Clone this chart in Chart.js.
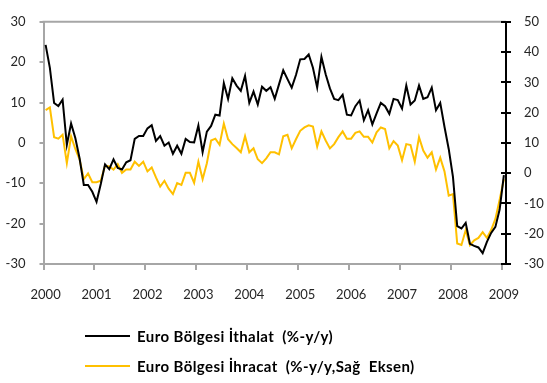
<!DOCTYPE html>
<html>
<head>
<meta charset="utf-8">
<script src="https://cdn.jsdelivr.net/npm/chart.js@4/dist/chart.umd.min.js"></script>
<style>
  html, body { margin: 0; padding: 0; background: #fff; }
  #wrap { position: relative; width: 547px; height: 383px; overflow: hidden; }
  #c { position: absolute; left: 0; top: 0; }
  .lg { position: absolute; left: 85px; height: 18px; line-height: 18px;
        font: bold 15px Lato, sans-serif; letter-spacing: 0.4px; color: #000; white-space: pre; }
  .lg .ln { position: absolute; left: 0; top: 8px; width: 45px; height: 2px; }
  .lg .tx { position: absolute; left: 52px; top: 0; }
</style>
</head>
<body>
<div id="wrap">
  <canvas id="c" width="547" height="383"></canvas>
</div>
<script>
// Monthly year-on-year changes, January 2000 to January 2009
const years = [2000, 2001, 2002, 2003, 2004, 2005, 2006, 2007, 2008, 2009];

// Euro area imports, % y/y (left axis)
const importsYoY = [
  24.3, 18.6, 9.9, 9.1, 10.7, -0.5, 4.8, 1.2, -3.8, -10.4, -10.4, -12.1,
  -14.6, -10.2, -5.3, -6.5, -4.1, -6.2, -6.6, -4.8, -4.3, 1.0, 1.7, 1.7,
  3.6, 4.4, 0.5, 1.7, -0.7, 0.1, -2.7, -0.7, -2.7, 1.0, 0.2, 0.1,
  4.3, -2.3, 2.8, 4.2, 7.0, 6.8, 14.8, 10.9, 16.0, 14.2, 12.9, 16.6,
  9.9, 12.7, 9.5, 13.9, 12.9, 13.8, 10.9, 14.5, 18.0, 15.8, 13.7, 16.8,
  20.7, 20.8, 21.9, 18.6, 13.7, 21.3, 17.0, 13.5, 10.9, 10.6, 11.9, 7.0,
  6.8, 9.1, 10.5, 5.6, 8.1, 4.6, 7.3, 9.9, 9.1, 7.2, 10.9, 10.6,
  8.5, 14.2, 9.5, 10.5, 14.2, 10.9, 11.3, 13.7, 8.1, 9.9, 4.0, -1.5,
  -8.4, -20.6, -21.2, -19.8, -25.0, -25.5, -25.9, -27.3, -24.5, -22.3, -20.8, -16.5,
  -8.0
];

// Euro area exports, % y/y (right axis)
const exportsYoY = [
  20.8, 21.7, 11.9, 11.4, 12.7, 3.3, 12.2, 8.0, 4.6, -2.0, -0.1, -3.0,
  -3.0, -2.5, 2.5, 2.2, 1.2, 3.0, 0.1, 1.2, 1.2, 3.8, 2.4, 3.8,
  0.6, 1.9, -1.4, -4.4, -2.5, -5.1, -6.9, -3.3, -3.9, 0.1, 0.1, -3.2,
  3.8, -2.0, 3.3, 10.8, 11.4, 9.4, 16.4, 11.2, 9.6, 8.3, 6.9, 12.2,
  6.9, 8.2, 4.6, 3.3, 4.9, 6.9, 6.9, 6.2, 12.2, 12.7, 8.2, 11.2,
  14.0, 15.1, 15.8, 15.4, 8.8, 13.8, 10.8, 8.2, 9.6, 11.9, 13.8, 11.4,
  11.4, 13.3, 13.8, 12.0, 12.0, 10.1, 13.5, 15.1, 14.6, 8.2, 10.6, 9.1,
  4.3, 9.6, 9.3, 3.8, 11.9, 7.5, 5.1, 6.9, 1.2, 5.1, 0.6, -7.4,
  -6.9, -23.2, -23.7, -18.8, -23.8, -22.2, -21.4, -19.5, -21.4, -18.8, -15.1, -8.8,
  -2.0
];

const seriesNames = [
  'Euro Bölgesi İthalat  (%-y/y)',
  'Euro Bölgesi İhracat  (%-y/y,Sağ  Eksen)'
];

// Month categories "YYYY-MM"
const months = [];
years.forEach(y => {
  for (let m = 1; m <= 12; m++) {
    if (months.length >= importsYoY.length) break;
    months.push(y + '-' + String(m).padStart(2, '0'));
  }
});

const GRAY = '#a6a6a6';
const TXT = '#262626';
const tickFont = { family: 'Lato', size: 13 };

// Top frame line and the inner half of the right-axis cross ticks
const framePlugin = {
  id: 'frame',
  beforeDatasetsDraw(chart) {
    const { ctx, chartArea } = chart;
    ctx.save();
    ctx.strokeStyle = GRAY;
    ctx.lineWidth = 2;
    ctx.beginPath();
    ctx.moveTo(chartArea.left - 1, chartArea.top);
    ctx.lineTo(chartArea.right, chartArea.top);
    ctx.stroke();
    const s = chart.scales.y2;
    ctx.strokeStyle = '#000';
    ctx.beginPath();
    s.ticks.forEach(t => {
      const py = Math.round(s.getPixelForValue(t.value));
      ctx.moveTo(s.left, py);
      ctx.lineTo(s.left - 5, py);
    });
    ctx.stroke();
    ctx.restore();
  }
};

const chart = new Chart(document.getElementById('c'), {
  type: 'line',
  data: {
    labels: months,
    datasets: [
      { label: seriesNames[0], data: importsYoY, yAxisID: 'y',
        borderColor: '#000000', borderWidth: 2, pointRadius: 0, tension: 0, fill: false },
      { label: seriesNames[1], data: exportsYoY, yAxisID: 'y2',
        borderColor: '#FFC000', borderWidth: 2, pointRadius: 0, tension: 0, fill: false }
    ]
  },
  options: {
    responsive: false,
    animation: false,
    layout: { padding: { top: 10, bottom: 79, left: 0, right: 0 } },
    plugins: { legend: { display: false }, tooltip: { enabled: false } },
    scales: {
      x: {
        type: 'category',
        offset: true,
        grid: {
          offset: true, drawOnChartArea: false, drawTicks: true, tickLength: 6, lineWidth: 2,
          color: c => (c.index % 12 === 0 ? GRAY : 'rgba(0,0,0,0)')
        },
        border: { color: GRAY, width: 2 },
        ticks: {
          autoSkip: false, maxRotation: 0, minRotation: 0, padding: 17,
          color: TXT, font: tickFont,
          callback: (v, i) => (i % 12 === 0 ? months[i].slice(0, 4) : '')
        },
        afterFit: s => { s.height = 40; }
      },
      y: {
        position: 'left', min: -30, max: 30,
        ticks: { stepSize: 10, padding: 14, color: TXT, font: tickFont },
        grid: { drawOnChartArea: false, tickLength: 4, color: GRAY, lineWidth: 2 },
        border: { color: GRAY, width: 2 },
        afterFit: s => { s.width = 43.5; }
      },
      y2: {
        position: 'right', min: -30, max: 50,
        ticks: { stepSize: 10, padding: 13, color: TXT, font: tickFont },
        grid: { drawOnChartArea: false, tickLength: 5, color: '#000', lineWidth: 2 },
        border: { color: '#000', width: 2 },
        afterFit: s => { s.width = 41; }
      }
    }
  },
  plugins: [framePlugin]
});

// Legend, stacked under the plot
const wrap = document.getElementById('wrap');
const legendTops = [327, 357];
chart.data.datasets.forEach((ds, i) => {
  const item = document.createElement('div');
  item.className = 'lg';
  item.style.top = legendTops[i] + 'px';
  const ln = document.createElement('span');
  ln.className = 'ln';
  ln.style.background = ds.borderColor;
  const tx = document.createElement('span');
  tx.className = 'tx';
  tx.textContent = ds.label;
  item.appendChild(ln);
  item.appendChild(tx);
  wrap.appendChild(item);
});
</script>
</body>
</html>
